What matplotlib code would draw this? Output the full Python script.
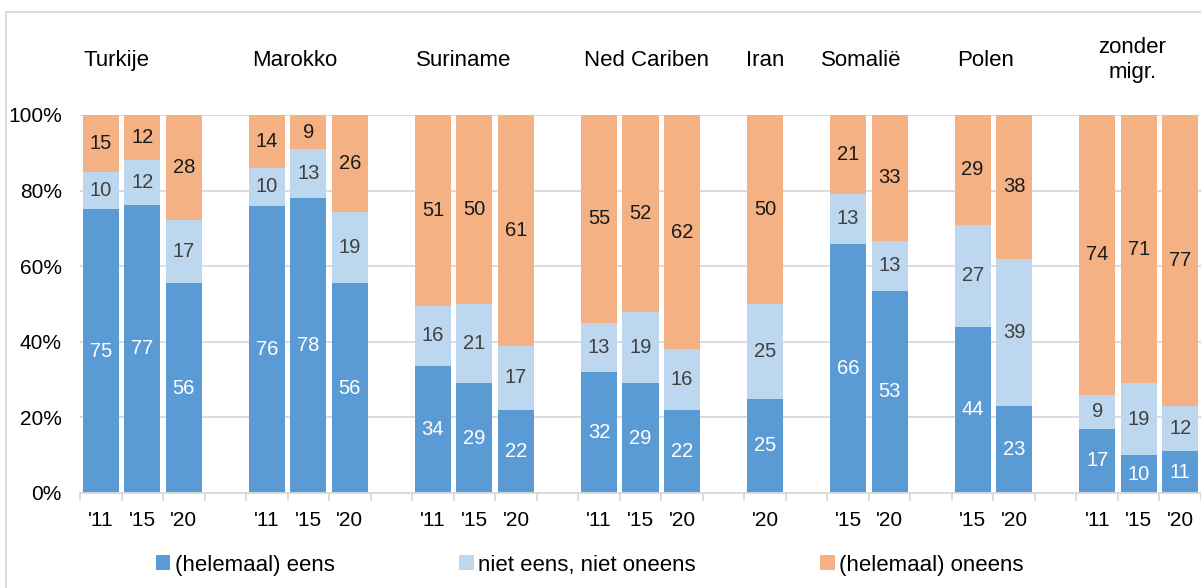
import numpy as np
import matplotlib
matplotlib.use('Agg')
import matplotlib.pyplot as plt
from matplotlib.patches import Rectangle

plt.rcParams['font.family'] = ['Liberation Sans', 'DejaVu Sans']
plt.rcParams['font.size'] = 15

# data
groups = ['Turkije', 'Marokko', 'Suriname', 'Ned Cariben', 'Iran', 'Somalië', 'Polen', 'zonder\nmigr.']
years = [["'11", "'15", "'20"], ["'11", "'15", "'20"], ["'11", "'15", "'20"], ["'11", "'15", "'20"],
         ["'20"], ["'15", "'20"], ["'15", "'20"], ["'11", "'15", "'20"]]
eens = [75, 77, 56, 76, 78, 56, 34, 29, 22, 32, 29, 22, 25, 66, 53, 44, 23, 17, 10, 11]
neutraal = [10, 12, 17, 10, 13, 19, 16, 21, 17, 13, 19, 16, 25, 13, 13, 27, 39, 9, 19, 12]
oneens = [15, 12, 28, 14, 9, 26, 51, 50, 61, 55, 52, 62, 50, 21, 33, 29, 38, 74, 71, 77]
series_names = ['(helemaal) eens', 'niet eens, niet oneens', '(helemaal) oneens']

colors = ['#5B9BD5', '#BDD7EE', '#F4B183']
text_colors = ['white', '#404040', '#1a1a1a']
# shifts of the group titles relative to group centre (in slots)
title_shift = [-0.63, -0.32, -0.27, 0.14, 0.0, -0.18, -0.19, -0.15]

# slot positions: one empty slot between groups
pos = []
centres = []
slot = 0
for yr in years:
    p = list(range(slot, slot + len(yr)))
    pos += p
    centres.append(np.mean(p))
    slot += len(yr) + 1
pos = np.array(pos, dtype=float)
last = pos[-1]
labels = [y for yr in years for y in yr]

vals = np.array([eens, neutraal, oneens], dtype=float)
share = vals / vals.sum(axis=0) * 100

fig = plt.figure(figsize=(12.01, 5.88), dpi=100)
ax = fig.add_axes([80 / 1201, 95 / 588, 1121 / 1201, 378 / 588])

bottom = np.zeros(len(pos))
for i in range(3):
    ax.bar(pos, share[i], bottom=bottom, width=0.87, color=colors[i], zorder=2,
           label=series_names[i])
    for x, b, h, v in zip(pos, bottom, share[i], vals[i]):
        ax.text(x, b + h / 2, '%d' % v, ha='center', va='center', color=text_colors[i],
                fontsize=14.5, zorder=3)
    bottom += share[i]

ax.set_xlim(-0.5, last + 0.5)
ax.set_ylim(0, 100)
ax.set_yticks(np.arange(0, 101, 20))
ax.set_yticklabels(['%d%%' % v for v in range(0, 101, 20)])
ax.yaxis.grid(True, color='#D9D9D9', linewidth=1.3, zorder=0)
ax.tick_params(axis='y', length=0, pad=13, labelsize=15)
ax.set_xticks(pos)
ax.set_xticklabels(labels)
ax.set_xticks(np.arange(-0.5, last + 1, 1), minor=True)
ax.tick_params(axis='x', which='major', length=0, pad=13, labelsize=15)
ax.tick_params(axis='x', which='minor', length=6, color='#D9D9D9', width=1.3)
for s in ['top', 'right', 'left']:
    ax.spines[s].set_visible(False)
ax.spines['bottom'].set_color('#D9D9D9')
ax.spines['bottom'].set_linewidth(1.3)

for name, c, sh in zip(groups, centres, title_shift):
    ax.text(c + sh, 1.145, name, transform=ax.get_xaxis_transform(), ha='center',
            va='center', fontsize=16, linespacing=1.25)

fig.legend(loc='center', bbox_to_anchor=(0.491, 1 - 565 / 588), ncol=3, frameon=False,
           handlelength=0.65, handleheight=0.65, handletextpad=0.2, columnspacing=5.6,
           fontsize=16)

fig.patches.append(Rectangle((6 / 1201, -0.1), 1.2, 1 - 12 / 588 + 0.1, transform=fig.transFigure,
                             fill=False, edgecolor='#D9D9D9', linewidth=1.3))

fig.savefig('out.png', dpi=100)
